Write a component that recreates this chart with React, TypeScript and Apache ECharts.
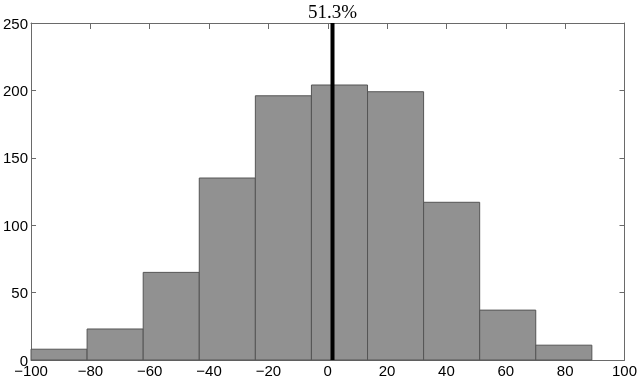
import React, { useEffect, useRef } from "react";
import * as echarts from "echarts";

const binStarts = [-100, -81.1, -62.2, -43.3, -24.4, -5.5, 13.4, 32.3, 51.2, 70.1];
const binEnds = [-81.1, -62.2, -43.3, -24.4, -5.5, 13.4, 32.3, 51.2, 70.1, 89];
const counts = [8, 23, 65, 135, 196, 204, 199, 117, 37, 11];
const markerX = 1.6;
const markerLabel = "51.3%";
const xTicks = [-100, -80, -60, -40, -20, 0, 20, 40, 60, 80, 100];

export default function App() {
  const ref = useRef<HTMLDivElement>(null);
  useEffect(() => {
    if (!ref.current) return;
    const chart = echarts.init(ref.current, null, { renderer: "svg" });
    const data = counts.map((c, i) => [binStarts[i], binEnds[i], c]);
    const axisLine = { show: true, onZero: false, lineStyle: { color: "#6a6a6a", width: 1 } };
    const tick = { show: true, inside: true, length: 6, lineStyle: { color: "#6a6a6a" } };
    const font = { fontFamily: "Liberation Sans", fontSize: 15, color: "#000" };
    chart.setOption({
      animation: false,
      grid: { left: 29, right: 13, top: 23, bottom: 18, containLabel: false },
      xAxis: [
        {
          type: "value",
          min: xTicks[0],
          max: xTicks[xTicks.length - 1],
          interval: 20,
          position: "bottom",
          axisLine,
          axisTick: tick,
          axisLabel: {
            ...font,
            margin: 3,
            formatter: (v: number) => String(v).replace("-", "\u2212"),
          },
          splitLine: { show: false },
        },
        {
          type: "value",
          min: xTicks[0],
          max: xTicks[xTicks.length - 1],
          interval: 20,
          position: "top",
          axisLine,
          axisTick: tick,
          axisLabel: { show: false },
          splitLine: { show: false },
        },
      ],
      yAxis: [
        {
          type: "value",
          min: 0,
          max: 250,
          interval: 50,
          position: "left",
          axisLine,
          axisTick: { ...tick, length: 5 },
          axisLabel: { ...font, margin: 3 },
          splitLine: { show: false },
        },
        {
          type: "value",
          min: 0,
          max: 250,
          interval: 50,
          position: "right",
          axisLine,
          axisTick: { ...tick, length: 5 },
          axisLabel: { show: false },
          splitLine: { show: false },
        },
      ],
      series: [
        {
          type: "custom",
          xAxisIndex: 0,
          yAxisIndex: 0,
          data,
          renderItem: (params: any, api: any) => {
            const p0 = api.coord([api.value(0), 0]);
            const p1 = api.coord([api.value(1), api.value(2)]);
            return {
              type: "rect",
              shape: { x: p0[0], y: p1[1], width: p1[0] - p0[0], height: p0[1] - p1[1] },
              style: { fill: "#919191", stroke: "#555555", lineWidth: 1 },
            };
          },
          z: 2,
        },
        {
          type: "line",
          xAxisIndex: 0,
          yAxisIndex: 0,
          data: [
            [markerX, 0],
            [markerX, 250],
          ],
          symbol: "none",
          showSymbol: false,
          lineStyle: { color: "#000", width: 4 },
          clip: false,
          z: 5,
        },
        {
          type: "custom",
          xAxisIndex: 0,
          yAxisIndex: 0,
          data: [[markerX, 250]],
          clip: false,
          renderItem: (params: any, api: any) => {
            const p = api.coord([api.value(0), api.value(1)]);
            return {
              type: "text",
              x: p[0],
              y: p[1] - 2,
              style: {
                text: markerLabel,
                fontFamily: "Liberation Serif",
                fontSize: 19,
                fill: "#000",
                align: "center",
                verticalAlign: "bottom",
              },
            };
          },
          z: 6,
        },
      ],
    });
    return () => chart.dispose();
  }, []);
  return (
    <div
      ref={ref}
      style={{ position: "fixed", left: 0, top: 0, width: 640, height: 378 }}
    />
  );
}
